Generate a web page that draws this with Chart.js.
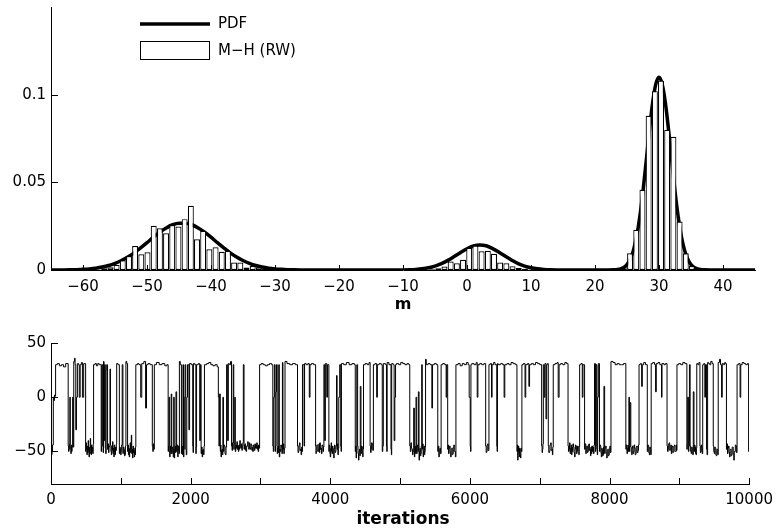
<!DOCTYPE html>
<html><head><meta charset="utf-8">
<script src="https://cdn.jsdelivr.net/npm/chart.js@4.4.1/dist/chart.umd.min.js"></script>
<style>
html,body{margin:0;padding:0;background:#fff;}
#wrap{position:relative;width:780px;height:531px;overflow:hidden;background:#fff;}
#c1{position:absolute;left:0;top:0;}
#c2{position:absolute;left:0;top:320px;}
</style></head><body>
<div id="wrap"><canvas id="c1" width="780" height="320"></canvas><canvas id="c2" width="780" height="211"></canvas></div>
<script>
// ---------- data ----------
const legendLabels = ['PDF', 'M\u2212H (RW)'];
const topXTitle = 'm';
const bottomXTitle = 'iterations';
const topXTicks = [-60, -50, -40, -30, -20, -10, 0, 10, 20, 30, 40];
const topYTicks = [0, 0.05, 0.1];
const bottomXTicks = [0, 1000, 2000, 3000, 4000, 5000, 6000, 7000, 8000, 9000, 10000];
const bottomXLabels = [0, 2000, 4000, 6000, 8000, 10000];
const bottomYTicks = [-50, 0, 50];

// histogram (density per bin), bins of equal width, first bin centre at histStart
const histStart = -58.62;
const histWidth = 0.9667;
const histDensity = [
  0, 0.0003, 0.001, 0.0015, 0.0029, 0.0055, 0.008, 0.0137, 0.009, 0.0101,
  0.0252, 0.0238, 0.021, 0.0257, 0.0248, 0.029, 0.0366, 0.0175, 0.0223, 0.0118,
  0.013, 0.0104, 0.011, 0.0043, 0.0043, 0.0014, 0.0023, 0.0015, 0.0006, 0.0003,
  0, 0, 0, 0, 0, 0, 0, 0, 0, 0,
  0, 0, 0, 0, 0, 0, 0, 0, 0, 0,
  0, 0, 0, 0, 0, 0.0004, 0.001, 0.002, 0.0048, 0.0038,
  0.0058, 0.0127, 0.014, 0.0107, 0.011, 0.0093, 0.0043, 0.0038, 0.0021, 0.0012,
  0.0007, 0.0003, 0, 0, 0, 0, 0, 0, 0, 0,
  0, 0, 0, 0, 0, 0.0003, 0.001, 0.0095, 0.0229, 0.0457,
  0.088, 0.102, 0.108, 0.080, 0.076, 0.0276, 0.0095, 0.0023, 0.001, 0.0003
];

// PDF curve
const pdfM = [-65,-64,-63,-62,-61,-60,-59,-58,-57,-56,-55,-54,-53,-52,-51,-50,-49,-48,-47,-46,-45,-44,-43,-42,-41,-40,-39,-38,-37,-36,-35,-34,-33,-32,-31,-30,-29,-28,-27,-26,-25,-24,-20,-14,-12,
  -10,-9,-8,-7,-6,-5,-4,-3,-2,-1,0,1,2,3,4,5,6,7,8,9,10,11,12,13,14,15,18,21,22,23,
  23.5,24,24.5,25,25.5,26,26.5,27,27.5,28,28.5,29,29.5,30,30.5,31,31.5,32,32.5,33,33.5,34,34.5,35,35.5,36,36.5,37,38,40,45];
const pdfY = [0.00002,0.00003,0.00006,0.00012,0.00021,0.00037,0.00064,0.00105,0.00166,0.00254,0.0038,0.0054,0.0074,0.0098,0.0126,0.0156,0.0187,0.0216,0.0240,0.0258,0.0267,0.0267,0.0258,0.0240,0.0216,0.0187,0.0156,0.0126,0.0098,0.0074,0.0054,0.0038,0.00254,0.00166,0.00105,0.00064,0.00037,0.00021,0.00012,0.00006,0.00003,0.00002,0,0.00001,0.00002,
  0.00006,0.00015,0.00033,0.00067,0.00126,0.0022,0.0036,0.0055,0.0077,0.0100,0.0121,0.0137,0.0143,0.0138,0.0122,0.0101,0.0078,0.0056,0.0036,0.0022,0.00126,0.00067,0.00033,0.00015,0.00006,0.00002,0,0,0.00001,0.0001,
  0.00026,0.00064,0.00146,0.00308,0.00609,0.0112,0.0191,0.0304,0.0450,0.0621,0.0797,0.0953,0.106,0.110,0.106,0.0953,0.0797,0.0621,0.0450,0.0304,0.0191,0.0112,0.00609,0.00308,0.00146,0.00064,0.00026,0.0001,0.00001,0,0];

// chain trace: [iteration at which the value starts, value]
const traceSteps = [
[0,-48],[8,-53],[15,-50],[22,-44],[33,0],[42,-3],[50,2],[58,1],
[66,30],[90,31],[120,29],[150,30],[180,28],[210,31],
[246,-45],[252,-50],[258,-48],[264,-43],[270,0],[276,-47],[284,-52],[290,-44],[295,-50],[302,-46],[310,0],[318,-46],
[326,33],[338,36],[345,30],[355,-30],[365,0],[378,31],[395,30],[405,0],[418,30],[435,32],[450,0],[468,31],
[496,-50],[502,-42],[508,-48],[514,-53],[520,-45],[526,-51],[532,-40],[538,-49],[544,-55],[550,-46],[556,-52],[562,-38],[568,-47],[574,-53],[580,-44],[586,-50],[592,-46],[598,-52],[604,-43],
[610,30],[630,31],[650,29],[670,31],[690,30],
[719,-50],[724,-45],[728,30],[740,-45],[746,-51],[752,33],[760,-40],[768,30],[778,-47],[784,-52],[790,25],[798,30],
[810,-48],[817,-43],[824,-51],[831,-46],[837,-45],[845,26],[852,-44],[858,-50],[864,-53],[870,-45],[876,-49],[882,-41],[888,-52],[894,-47],[900,-55],[906,-44],[912,-50],[918,-53],[924,-46],[930,-49],[936,-43],
[941,31],[960,30],
[979,-52],[985,-46],[990,-47],[997,-53],[1005,-50],[1012,-44],
[1020,30],[1030,-52],[1036,-46],[1045,-48],[1052,-54],[1060,-53],[1066,-45],
[1073,33],[1085,31],
[1097,-50],[1103,-44],[1109,-53],[1115,-47],[1121,-55],[1127,-49],[1133,-42],[1140,-51],[1146,-46],[1150,-35],[1156,-52],[1162,-48],[1168,-56],[1174,-45],[1180,-51],[1186,-47],[1192,-55],[1198,-49],[1205,-53],[1210,-46],
[1215,30],[1240,31],[1260,30],[1285,0],[1300,31],[1330,33],[1355,-10],[1368,30],[1390,31],[1420,30],
[1451,-45],[1458,-50],[1465,-43],[1472,-48],
[1480,30],[1510,32],[1550,30],[1590,31],[1630,29],[1660,30],
[1678,-50],[1684,-45],[1690,0],[1700,-55],[1706,-49],[1712,-45],[1717,-52],[1722,3],[1730,-52],[1737,-46],[1745,-48],[1751,-55],[1758,0],[1765,-56],[1771,-48],[1778,-45],[1784,-51],[1790,5],[1800,-50],[1807,-44],[1815,-55],[1821,-49],[1828,-45],[1834,-52],
[1839,33],[1852,30],
[1868,-52],[1874,-45],[1880,-47],[1885,-53],[1890,30],[1898,-55],[1904,-48],[1910,0],[1920,30],[1930,-48],[1937,-53],[1945,0],[1955,30],[1975,-30],[1985,31],[2010,30],
[2030,-45],[2035,-51],[2040,31],[2060,30],[2075,-52],[2080,-46],[2085,30],[2110,31],[2130,-40],[2140,30],
[2150,-52],[2156,-46],[2165,-55],[2171,-49],[2180,-48],[2186,-53],[2192,-45],
[2198,30],[2230,31],[2260,32],[2290,30],[2320,29],[2350,30],[2380,28],
[2397,0],[2405,-45],[2415,3],[2425,-50],[2430,-44],[2435,-55],[2442,-49],[2450,-48],[2456,-53],[2462,0],[2470,-50],[2477,-44],[2485,-45],[2492,-52],[2500,-53],[2507,-46],
[2515,30],[2530,-40],[2540,31],[2555,30],[2572,33],
[2586,-45],[2593,-49],[2600,-42],[2610,30],[2618,-48],[2625,-43],[2632,0],
[2640,-50],[2647,-44],[2655,-47],[2662,-41],[2670,-48],[2678,-45],[2684,-50],[2690,-44],[2697,-48],[2704,-40],[2712,-46],[2720,-47],[2727,-43],[2734,-49],[2740,-45],[2748,-42],
[2755,30],
[2765,-48],[2772,-44],[2780,-43],[2787,-49],[2795,-50],[2802,-45],[2810,-45],[2817,-41],[2825,-46],[2832,-48],[2840,-42],[2847,-47],[2855,-48],[2862,-43],[2870,-44],[2877,-49],[2884,-46],[2890,-50],[2897,-44],[2905,-46],[2912,-49],[2920,-43],[2927,-47],[2933,-44],[2940,-47],[2947,-42],[2954,-48],[2960,-45],[2967,-50],[2974,-44],[2981,-47],
[2988,30],[3010,31],[3040,30],[3070,29],[3100,30],[3130,31],[3160,30],
[3177,-45],[3184,-50],[3190,0],[3200,30],[3210,-50],[3216,-45],[3222,5],[3230,30],[3240,-52],[3246,-47],[3252,-45],[3257,-51],[3262,30],[3270,-55],[3277,-48],[3285,-50],[3292,-44],[3300,-46],[3307,-52],[3315,32],[3322,-48],[3328,-43],[3335,-52],[3342,-47],
[3352,33],[3380,31],[3420,30],[3460,31],[3500,30],
[3531,-45],[3538,-51],[3545,-50],[3552,-44],[3560,-42],[3567,-49],[3575,-48],[3582,-53],[3590,-46],[3596,-50],
[3602,30],[3625,-45],[3632,31],[3655,30],[3680,31],[3700,0],[3710,30],[3730,31],[3760,30],
[3790,-45],[3795,-52],[3800,-50],[3807,-44],[3815,-44],[3822,-50],[3830,-48],[3837,-43],[3845,-51],[3850,-42],[3858,-48],[3868,-47],[3875,-52],[3882,-44],[3890,-45],[3897,-50],[3903,-46],
[3909,30],[3920,-40],[3930,31],[3950,0],[3960,30],
[3980,-50],[3985,-44],[3990,-45],[3995,-52],[4000,-55],[4006,-47],[4012,-42],[4018,-50],[4025,-52],[4031,-45],[4038,-47],[4044,-53],[4050,-56],[4056,-48],[4062,-44],[4068,-51],[4075,-50],[4082,-45],[4090,20],[4098,-48],[4104,-43],[4110,-53],[4116,-47],[4122,0],
[4135,30],[4150,-45],[4155,-50],[4160,31],[4193,30],[4230,32],[4270,30],[4310,31],[4345,30],
[4358,-50],[4364,-45],[4370,-56],[4376,-49],[4380,30],[4392,-45],[4398,-52],[4405,-58],[4411,-50],[4418,-48],[4424,-54],[4430,10],[4440,-52],[4447,-45],[4455,-46],[4460,-51],[4465,-55],[4470,-48],
[4476,30],[4500,31],[4530,30],[4555,32],
[4571,-45],[4578,-51],[4585,-48],[4592,-42],[4600,-43],[4608,-49],
[4618,30],[4640,31],[4665,0],[4675,30],[4700,31],[4730,30],[4745,-50],[4752,-45],[4760,31],[4790,30],[4805,-45],[4810,-50],[4815,32],[4840,30],[4870,-48],[4875,-53],[4880,31],[4902,30],[4915,-40],[4925,0],[4935,30],[4949,31],[4980,30],
[5010,32],[5040,31],[5070,30],[5100,31],[5125,30],
[5139,-45],[5147,-50],[5155,-42],[5162,-47],[5170,-48],[5178,-53],[5186,-50],[5195,-10],[5205,-55],[5211,-48],[5218,-45],[5223,-52],[5228,0],[5238,-52],[5244,-46],[5250,-44],[5256,-50],[5262,5],[5272,-58],[5278,-50],[5285,-47],[5291,-54],[5298,-52],[5304,-45],[5310,30],[5318,-48],[5324,-43],[5330,-55],[5336,-49],[5342,-45],[5348,-53],[5355,-50],[5360,-46],
[5365,35],[5375,30],[5400,31],[5430,30],[5455,-10],[5465,30],[5490,31],[5520,30],
[5540,-50],[5547,-45],[5555,-55],[5562,-49],[5570,-47],[5578,-52],
[5588,30],[5610,31],[5640,30],[5660,0],[5668,30],
[5682,-48],[5688,-44],[5695,-52],[5702,-47],[5710,-45],[5717,-51],[5725,-55],[5732,-48],[5740,-47],[5747,-53],[5755,-52],[5762,-46],[5770,-44],[5777,-50],[5785,-50],[5792,-55],
[5800,30],[5830,31],[5860,29],[5890,31],[5920,30],[5950,32],[5975,30],[5990,0],
[6005,-45],[6010,-50],[6015,30],[6027,31],[6060,30],[6090,32],[6105,0],[6115,30],[6140,31],[6170,30],[6200,31],
[6226,-45],[6233,-51],[6240,-50],[6247,-44],[6255,-43],[6262,-49],
[6273,30],[6290,31],[6310,0],[6318,30],[6340,32],[6360,30],[6385,-45],[6390,-50],[6395,31],[6405,30],[6440,31],[6470,30],[6490,0],[6500,30],[6530,31],[6560,30],[6590,32],[6620,31],[6651,30],
[6674,-50],[6680,-44],[6685,-58],[6690,-51],[6695,-45],[6700,-50],[6705,-55],[6710,-47],[6715,-48],[6720,-53],[6725,-56],[6731,-47],[6738,-50],
[6745,30],[6765,31],[6790,0],[6800,30],[6825,31],[6845,10],[6855,30],[6880,31],[6910,30],[6940,32],[6970,31],
[7000,30],[7028,-45],[7034,-51],[7040,-48],[7046,-43],[7052,30],[7065,0],[7075,31],[7090,-20],[7100,30],[7110,31],
[7123,-45],[7130,-51],[7140,-50],[7147,-44],[7158,-42],[7165,-49],[7175,-48],[7182,-53],[7188,-46],
[7194,30],[7220,31],[7250,32],[7265,0],[7278,30],[7300,31],[7330,30],[7360,32],[7385,31],
[7406,-45],[7412,-50],[7420,-48],[7427,-42],[7435,-52],[7442,-47],[7450,-44],[7457,-53],[7463,-46],[7468,-50],[7475,-43],[7485,-46],[7492,-51],[7500,-55],[7507,-48],[7512,-44],[7518,-45],[7526,-52],[7535,-50],[7542,-45],[7552,-47],[7560,-53],[7566,-46],
[7572,30],[7590,31],[7610,0],[7620,30],
[7643,-48],[7650,-43],[7660,-52],[7667,-47],[7675,-45],[7682,-51],[7690,-50],[7697,-44],[7705,-43],[7712,-49],[7720,-48],[7727,-54],[7733,-46],[7740,-52],[7747,-45],[7755,-50],[7765,-46],[7772,-52],[7778,-44],
[7785,31],[7800,-50],[7805,-45],[7810,30],[7820,-48],[7825,-53],[7830,0],[7840,31],
[7856,-50],[7862,-44],[7870,-45],[7876,-51],[7882,-55],[7889,-47],[7895,-48],[7901,-54],[7908,-53],[7914,-46],[7920,10],[7930,-52],[7937,-47],[7945,-45],[7952,-51],[7960,-56],[7967,-49],[7975,-48],[7982,-54],[7990,-53],[7997,-47],[8005,-45],[8012,-51],
[8021,33],[8050,32],[8080,30],[8110,31],[8140,30],[8170,30],[8200,31],
[8234,-48],[8241,-44],[8250,-52],[8257,-47],[8265,-44],[8271,-50],[8278,0],[8285,-50],[8290,-45],[8295,-5],[8305,-46],[8311,-51],[8318,-53],[8324,-47],[8330,-45],[8337,-52],[8345,-50],[8352,-44],[8360,-47],[8367,-53],[8375,-52],[8382,-46],[8390,-45],[8397,-51],[8408,-49],[8415,-44],
[8423,30],[8440,31],[8460,10],[8470,30],[8490,32],[8515,30],
[8541,-50],[8548,-44],[8555,-45],[8562,-51],[8570,-53],[8577,-46],[8585,-48],[8591,-53],
[8597,31],[8620,32],[8645,30],[8660,5],[8670,31],[8695,32],[8720,30],[8745,0],[8752,31],[8780,30],[8800,31],
[8824,-45],[8831,-50],[8840,-48],[8847,-43],[8855,-42],[8862,-49],[8872,-48],[8878,-44],[8885,-52],[8892,-46],[8900,-45],[8907,-51],[8915,-50],[8922,-45],[8930,-44],[8937,-50],[8948,-50],[8955,-44],[8960,-49],
[8966,30],[8990,31],[9020,30],[9050,32],[9080,31],
[9108,-48],[9114,-43],[9120,0],[9130,-50],[9137,-45],[9145,30],[9155,-45],[9162,-50],[9170,-52],[9177,-46],[9185,-48],[9192,-53],[9200,5],[9210,-50],[9217,-44],[9225,-46],[9232,-52],[9240,-53],[9245,-47],
[9250,31],[9265,30],[9280,32],
[9295,-45],[9301,-51],[9308,-50],[9314,-44],[9320,-47],[9327,-52],
[9335,30],[9350,31],[9365,0],[9375,30],[9390,-48],[9397,-53],[9405,32],[9420,31],[9435,30],[9450,33],[9470,31],
[9486,-45],[9493,-50],[9500,-52],[9507,-46],[9515,-47],[9522,-53],[9530,-54],[9537,-48],[9545,-48],[9551,-53],
[9557,32],[9575,35],[9590,30],[9605,0],[9615,31],[9635,30],[9650,32],[9662,31],
[9675,-48],[9682,-43],[9690,-52],[9697,-47],[9705,-45],[9712,-51],[9720,-55],[9727,-48],[9735,-48],[9742,-54],[9750,-53],[9757,-46],[9765,-46],[9772,-52],[9780,-58],[9787,-50],[9795,-50],[9802,-44],[9810,-45],[9817,-51],
[9827,30],[9850,31],[9870,0],[9880,30],[9900,32],[9925,31],[9950,30],[9975,31],[9992,-50],[10000,-50]
];

// ---------- build ----------
const histPoints = [];
histDensity.forEach((d, i) => { if (d > 0) histPoints.push({ x: histStart + i * histWidth, y: d }); });
const pdfPoints = pdfM.map((m, i) => ({ x: m, y: pdfY[i] }));
const tracePoints = traceSteps.map(s => ({ x: s[0], y: s[1] }));

Chart.defaults.font.family = "'DejaVu Sans', 'Liberation Sans', sans-serif";
Chart.defaults.font.size = 15;
Chart.defaults.color = '#000';

const fmt = v => (v < 0 ? '\u2212' + Math.abs(v) : String(v));

const decor = {
  id: 'decor',
  afterDatasetsDraw(chart, args, o) {
    const ctx = chart.ctx, xs = chart.scales.x, ys = chart.scales.y;
    ctx.save();
    ctx.strokeStyle = '#000'; ctx.lineWidth = 1;
    o.xTicks.forEach(v => {
      const px = Math.round(xs.getPixelForValue(v)) + 0.5;
      ctx.beginPath(); ctx.moveTo(px, ys.bottom); ctx.lineTo(px, ys.bottom - o.xLen); ctx.stroke();
    });
    o.yTicks.forEach(v => {
      const py = Math.round(ys.getPixelForValue(v)) + 0.5;
      ctx.beginPath(); ctx.moveTo(xs.left, py); ctx.lineTo(xs.left + o.yLen, py); ctx.stroke();
    });
    ctx.fillStyle = '#000';
    ctx.font = o.titleFont; ctx.textAlign = 'center'; ctx.textBaseline = 'middle';
    ctx.fillText(o.title, o.titleX, o.titleY);
    if (o.legend) {
      ctx.font = "15px 'DejaVu Sans'"; ctx.textAlign = 'left';
      ctx.lineWidth = 3.5;
      ctx.beginPath(); ctx.moveTo(140, 24); ctx.lineTo(210, 24); ctx.stroke();
      ctx.fillText(legendLabels[0], 218, 24);
      ctx.lineWidth = 1;
      ctx.fillStyle = '#fff'; ctx.fillRect(140.5, 41.5, 69, 18);
      ctx.strokeRect(140.5, 41.5, 69, 18);
      ctx.fillStyle = '#000';
      ctx.fillText(legendLabels[1], 218, 51);
    }
    ctx.restore();
  }
};

const axisCommon = {
  grid: { display: false, drawTicks: false },
  border: { display: true, color: '#000', width: 1 }
};

new Chart(document.getElementById('c1'), {
  data: {
    datasets: [
      { type: 'bar', label: legendLabels[1], data: histPoints, backgroundColor: '#fff', borderColor: '#000',
        borderWidth: 1.2, borderSkipped: false, barPercentage: 0.97, categoryPercentage: 1.0 },
      { type: 'line', label: legendLabels[0], data: pdfPoints, borderColor: '#000', borderWidth: 3.5,
        pointRadius: 0, cubicInterpolationMode: 'monotone', fill: false }
    ]
  },
  options: {
    responsive: false, animation: false, events: [],
    layout: { padding: { left: 0, right: 25, top: 7, bottom: 0 } },
    plugins: {
      legend: { display: false }, tooltip: { enabled: false },
      decor: { xTicks: topXTicks, yTicks: topYTicks.slice(1), xLen: 5, yLen: 7,
        title: topXTitle, titleFont: "bold 16px 'DejaVu Sans'", titleX: 403, titleY: 305, legend: true }
    },
    scales: {
      x: Object.assign({}, axisCommon, {
        type: 'linear', min: -65, max: 45, offset: false,
        ticks: { padding: 8, maxRotation: 0, autoSkip: false, callback: fmt },
        afterBuildTicks: s => { s.ticks = topXTicks.map(v => ({ value: v })); },
        afterFit: s => { s.height = 50; }
      }),
      y: Object.assign({}, axisCommon, {
        type: 'linear', min: 0, max: 0.15,
        ticks: { padding: 5, autoSkip: false, callback: v => String(v) },
        afterBuildTicks: s => { s.ticks = topYTicks.map(v => ({ value: v })); },
        afterFit: s => { s.width = 51; s.paddingTop = 0; s.paddingBottom = 0; }
      })
    }
  },
  plugins: [decor]
});

new Chart(document.getElementById('c2'), {
  type: 'line',
  data: {
    datasets: [
      { label: 'trace', data: tracePoints, borderColor: '#000', borderWidth: 1, pointRadius: 0,
        stepped: true, fill: false }
    ]
  },
  options: {
    responsive: false, animation: false, events: [],
    layout: { padding: { left: 0, right: 24, top: 23, bottom: 0 } },
    plugins: {
      legend: { display: false }, tooltip: { enabled: false },
      decor: { xTicks: bottomXTicks, yTicks: bottomYTicks, xLen: 6, yLen: 7,
        title: bottomXTitle, titleFont: "bold 17px 'DejaVu Sans'", titleX: 403, titleY: 200, legend: false }
    },
    scales: {
      x: Object.assign({}, axisCommon, {
        type: 'linear', min: 0, max: 10000, offset: false,
        ticks: { padding: 7, maxRotation: 0, autoSkip: false, callback: v => String(v) },
        afterBuildTicks: s => { s.ticks = bottomXLabels.map(v => ({ value: v })); },
        afterFit: s => { s.height = 47; }
      }),
      y: Object.assign({}, axisCommon, {
        type: 'linear', min: -80, max: 50,
        ticks: { padding: 5, autoSkip: false, callback: fmt },
        afterBuildTicks: s => { s.ticks = bottomYTicks.map(v => ({ value: v })); },
        afterFit: s => { s.width = 51; s.paddingTop = 0; s.paddingBottom = 0; }
      })
    }
  },
  plugins: [decor]
});
</script>
</body></html>
